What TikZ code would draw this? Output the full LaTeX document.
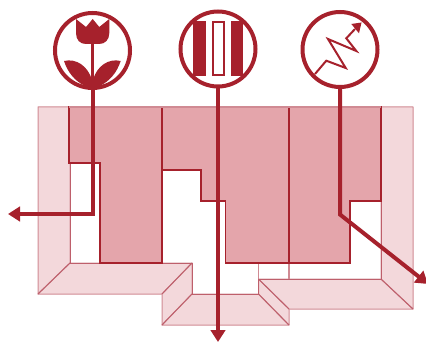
\documentclass[tikz,border=0pt]{standalone}
\usetikzlibrary{arrows.meta}
\definecolor{wine}{HTML}{A6212C}
\definecolor{lightfill}{HTML}{F3D8DB}
\definecolor{lightedge}{HTML}{D08A93}
\definecolor{crease}{HTML}{BE5F6B}
\definecolor{midfill}{HTML}{E4A5AB}
\tikzset{
  lightface/.style={fill=lightfill,draw=lightedge,line width=1pt,line join=round},
  creaseline/.style={draw=crease,line width=0.9pt},
  midface/.style={fill=midfill,draw=wine,line width=1.6pt,line join=miter},
  badge/.style={circle,draw=wine,line width=4pt,fill=white,minimum size=75pt,inner sep=0pt},
  leader/.style={draw=wine,line width=4pt,line join=miter,-{Triangle[width=14.5pt,length=12pt]}}
}
\begin{document}
\begin{tikzpicture}[x=1pt,y=-1pt]
\useasboundingbox (0,0) rectangle (426,342);
% light walls and floors
\path[lightface] (38,107) -- (70,107) -- (70,263) -- (38,294) -- cycle;
\path[lightface] (70,263) -- (192,263) -- (162,294) -- (38,294) -- cycle;
\path[lightface] (192,263) -- (192,294) -- (162,325) -- (162,294) -- cycle;
\path[lightface] (192,294) -- (258.5,294) -- (289,325) -- (162,325) -- cycle;
\path[lightface] (258.5,279) -- (289,309) -- (289,325) -- (258.5,294) -- cycle;
\path[lightface] (258.5,279) -- (381,279) -- (413,309) -- (289,309) -- cycle;
\path[lightface] (381,107) -- (413,107) -- (413,309) -- (381,279) -- cycle;
\draw[lightedge,line width=1pt] (258.5,263) -- (258.5,279);
\draw[lightedge,line width=1.2pt] (289,263) -- (289,279);
% creases
\draw[creaseline] (70,107) -- (70,263) -- (192,263) -- (192,294) -- (258.5,294) -- (258.5,279) -- (381,279) -- (381,107);
\draw[creaseline] (70,263) -- (38,294);
\draw[creaseline] (192,263) -- (162,294);
\draw[creaseline] (192,294) -- (162,325);
\draw[creaseline] (258.5,294) -- (289,325);
\draw[creaseline] (258.5,279) -- (289,309);
\draw[creaseline] (381,279) -- (413,309);
% darker block
\path[midface] (69,107) -- (381,107) -- (381,201) -- (350,201) -- (350,263) -- (225.5,263) -- (225.5,201) -- (201,201) -- (201,170) -- (162,170) -- (162,263) -- (100,263) -- (100,163) -- (69,163) -- cycle;
\draw[wine,line width=1.6pt] (162,107) -- (162,170);
\draw[wine,line width=1.6pt] (289,107) -- (289,263);
\draw[lightedge,line width=1.2pt] (69,107) -- (381,107);
% badges
\node[badge] (tulip) at (92.5,50.5) {};
\node[badge] (bars) at (218,49) {};
\node[badge] (zig) at (340,49.5) {};
% leaders
\coordinate (tulipbend) at (92.5,214);
\coordinate (tulipend) at (8,214);
\coordinate (barsend) at (218,342);
\coordinate (zigbend) at (340,214.5);
\coordinate (zigend) at (428,284);
\draw[leader] (tulip.south) -- (tulipbend) -- (tulipend);
\draw[leader] (bars.south) -- (barsend);
\draw[leader] (zig.south) -- (zigbend) -- (zigend);
% tulip icon
\fill[wine] (76,19) -- (86,27) -- (92.7,19) -- (99.3,27) -- (109.3,19) -- (109.3,33) .. controls (109.3,40) and (105,44) .. (99,44) -- (86,44) .. controls (80,44) and (76,40) .. (76,33) -- cycle;
\draw[wine,line width=3pt] (92.5,42) -- (92.5,88);
\fill[wine] (64,61) .. controls (76,58) and (88,66) .. (92,80) -- (92,87.5) .. controls (88,87) and (87,87) .. (85,86) .. controls (75,81) and (68,73) .. (64,61) -- cycle;
\fill[wine] (120.7,61) .. controls (108.7,58) and (96.7,66) .. (93,80) -- (93,87.5) .. controls (96.7,87) and (97.7,87) .. (99.7,86) .. controls (109.7,81) and (116.7,73) .. (120.7,61) -- cycle;
% bars icon
\fill[wine] (193.3,20.7) rectangle (205.5,76.5);
\fill[wine] (230.8,20.7) rectangle (243.2,76.5);
\draw[wine,line width=2pt] (213.3,21.7) rectangle (223.7,75.5);
% zigzag icon
\draw[wine,line width=2pt,line join=miter] (315,74) -- (326.3,60.7) -- (345.7,68) -- (328,39) -- (356.3,51) -- (346.3,38.3) -- (355,29);
\fill[wine] (361.5,22.5) -- (351.3,24) -- (359,33.3) -- cycle;
\end{tikzpicture}
\end{document}
